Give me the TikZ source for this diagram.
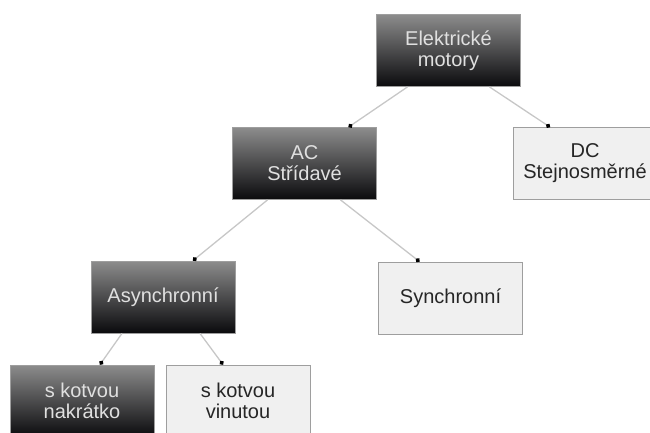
\documentclass[tikz,border=0pt]{standalone}
\usepackage{fontspec}
\setmainfont{Liberation Sans}
\usetikzlibrary{arrows.meta}

\definecolor{boxtop}{rgb}{0.55,0.55,0.55}
\definecolor{boxbot}{rgb}{0.04,0.04,0.05}
\definecolor{lightfill}{rgb}{0.94,0.94,0.94}
\definecolor{lightline}{rgb}{0.62,0.62,0.62}
\definecolor{linkgray}{rgb}{0.78,0.78,0.78}

\begin{document}
\begin{tikzpicture}[x=1pt,y=1pt,yscale=-1,xscale=1,
  darkbox/.style={draw=lightline,line width=0.8pt,top color=boxtop,bottom color=boxbot,
    text=white!88!black,minimum width=144pt,minimum height=72pt,align=center,
    font=\fontsize{20}{21}\selectfont,inner sep=0pt},
  lightbox/.style={draw=lightline,line width=0.8pt,fill=lightfill,text=black!85,
    minimum width=144pt,minimum height=72pt,align=center,
    font=\fontsize{20}{21}\selectfont,inner sep=0pt},
  link/.style={draw=linkgray,line width=1.3pt,-{Circle[black,length=4.5pt]}}]
%set diagram left start at 0, and has height of 432
\useasboundingbox (0,0) rectangle (650,432);
\clip (0,0) rectangle (650,432);

%Shape: top box
\node[darkbox] (motory) at (448.5,50.5) {Elektrické\\motory};
%Shape: second row
\node[darkbox] (ac) at (304.5,163.5) {AC\\Střídavé};
\node[lightbox] (dc) at (585,163.5) {DC\\Stejnosměrné};
%Shape: third row
\node[darkbox] (async) at (163,297) {Asynchronní};
\node[lightbox] (sync) at (450.5,298) {Synchronní};
%Shape: bottom row
\node[darkbox] (nakratko) at (82,401) {s kotvou\\nakrátko};
\node[lightbox] (vinutou) at (238,401) {s kotvou\\vinutou};

%Straight Lines
\draw[link] ([xshift=-41pt]motory.south) -- ([xshift=44pt]ac.north);
\draw[link] ([xshift=41pt]motory.south) -- ([xshift=-35pt]dc.north);
\draw[link] ([xshift=-37pt]ac.south) -- ([xshift=30pt]async.north);
\draw[link] ([xshift=36pt]ac.south) -- ([xshift=-31pt]sync.north);
\draw[link] ([xshift=-41pt]async.south) -- ([xshift=18pt]nakratko.north);
\draw[link] ([xshift=37pt]async.south) -- ([xshift=-15pt]vinutou.north);

\end{tikzpicture}
\end{document}
